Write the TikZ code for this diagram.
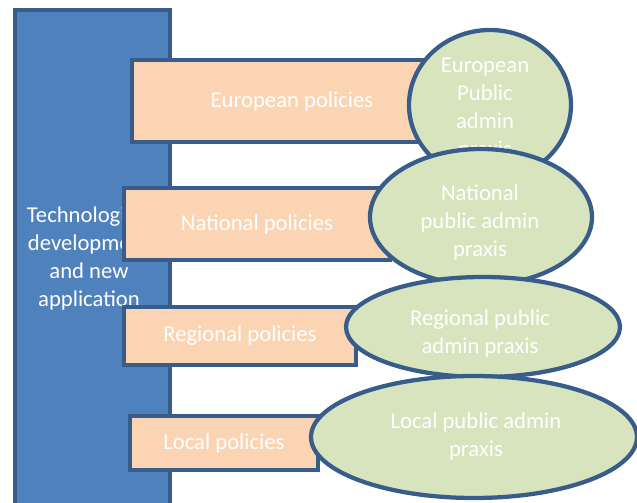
\documentclass[tikz,border=0pt]{standalone}
\usepackage{fontspec}
\setmainfont{Carlito}
\usetikzlibrary{shapes.geometric}
\definecolor{techblue}{HTML}{4F81BD}
\definecolor{edgeblue}{HTML}{385D8A}
\definecolor{peach}{HTML}{FBD4B4}
\definecolor{sage}{HTML}{D7E4BD}
\tikzset{
  lbl/.style={text=white,font=\fontsize{17}{21}\selectfont,align=center},
  techbox/.style={rectangle,fill=techblue,draw=edgeblue,line width=3pt,anchor=north west,inner sep=0pt},
  policybox/.style={rectangle,fill=peach,draw=edgeblue,line width=3pt,inner sep=0pt,lbl},
  praxis/.style={ellipse,fill=sage,draw=edgeblue,line width=3.2pt,inner sep=0pt},
}
\begin{document}
\begin{tikzpicture}[x=0.75pt,y=-0.75pt]
\useasboundingbox (0,0) rectangle (637,503);
\clip (0,0) rectangle (637,503);
% blue column
\node[techbox,minimum width=155*0.75pt,minimum height=520*0.75pt] (tech) at (13,8) {};
\node[lbl,anchor=north] (techtext) at (89,202) {Technological\\development\\and new\\application};
% policy boxes
\node[policybox,minimum width=320*0.75pt,minimum height=82*0.75pt] (eupol) at (292,101) {European policies};
\node[policybox,minimum width=266*0.75pt,minimum height=72*0.75pt] (natpol) at (257,224) {National policies};
\node[policybox,minimum width=232*0.75pt,minimum height=58*0.75pt] (regpol) at (240,336) {Regional policies};
\node[policybox,minimum width=188*0.75pt,minimum height=54*0.75pt] (locpol) at (224,443) {Local policies};
% praxis ellipses
\node[praxis,minimum width=162*0.75pt,minimum height=150*0.75pt] (eupr) at (490,105) {};
\node[lbl,anchor=north] (euprtext) at (485,53) {European\\Public\\admin\\praxis};
\node[praxis,minimum width=222*0.75pt,minimum height=136*0.75pt] (natpr) at (481,217) {};
\node[lbl] (natprtext) at (480,222) {National\\public admin\\praxis};
\node[praxis,minimum width=274*0.75pt,minimum height=100*0.75pt] (regpr) at (483,327) {};
\node[lbl] (regprtext) at (480,333) {Regional public\\admin praxis};
\node[praxis,minimum width=326*0.75pt,minimum height=122*0.75pt] (locpr) at (474,437) {};
\node[lbl] (locprtext) at (476,436) {Local public admin\\praxis};
\end{tikzpicture}
\end{document}
